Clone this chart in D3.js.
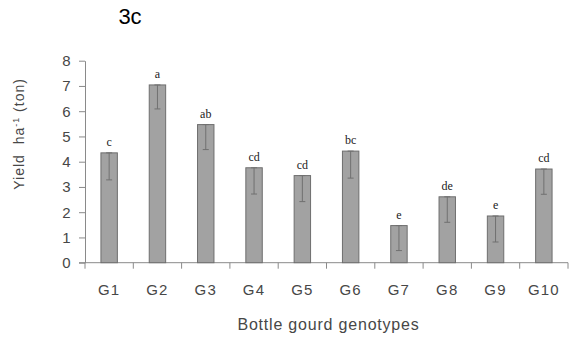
<!DOCTYPE html>
<html>
<head>
<meta charset="utf-8">
<script src="https://cdn.jsdelivr.net/npm/d3@7"></script>
<style>
  body { margin: 0; background: #fff; }
  svg { display: block; }
  text { font-family: "Liberation Sans", Arial, sans-serif; }
</style>
</head>
<body>
<div id="chart"></div>
<script>
// genotypes and yield values
const genotypes = ["G1", "G2", "G3", "G4", "G5", "G6", "G7", "G8", "G9", "G10"];
const yields = [4.35, 7.04, 5.47, 3.76, 3.45, 4.42, 1.47, 2.61, 1.85, 3.71];
const errors = [1.07, 0.95, 0.99, 1.04, 1.03, 1.07, 0.99, 1.01, 1.03, 1.0];
const letters = ["c", "a", "ab", "cd", "cd", "bc", "e", "de", "e", "cd"];
const yTicks = [0, 1, 2, 3, 4, 5, 6, 7, 8];

const props = {
  width: 573,
  height: 343,
  left: 85,
  right: 5,
  top: 60.7,
  bottom: 80.3,
  barFill: "#a2a2a2",
  barStroke: "#6e6e6e",
  axisColor: "#8a8a8a",
  textColor: "#474747",
};

const data = genotypes.map((g, i) => ({ g, y: yields[i], e: errors[i], l: letters[i] }));

const svg = d3.select("#chart").append("svg")
  .attr("width", props.width)
  .attr("height", props.height);

const width = props.width - props.left - props.right;
const height = props.height - props.top - props.bottom;

const g = svg.append("g").attr("transform", `translate(${props.left},${props.top})`);

const x = d3.scaleBand()
  .domain(genotypes)
  .range([0, width])
  .paddingInner(0.66)
  .paddingOuter(0.33);

const y = d3.scaleLinear().domain([0, 8]).range([height, 0]);

// y axis
const yAxis = g.append("g")
  .call(d3.axisLeft(y).tickValues(yTicks).tickSize(6).tickSizeOuter(0).tickPadding(8));
yAxis.select(".domain").attr("stroke", props.axisColor);
yAxis.selectAll(".tick line").attr("stroke", props.axisColor);
yAxis.selectAll(".tick text")
  .attr("fill", props.textColor)
  .style("font-size", "15px")
  .style("letter-spacing", "0.5px");

// x axis: labels centred under bars, ticks on category boundaries
const xAxis = g.append("g")
  .attr("transform", `translate(0,${height})`)
  .call(d3.axisBottom(x).tickSize(0).tickPadding(22).tickSizeOuter(0));
xAxis.select(".domain").remove();
xAxis.selectAll(".tick text")
  .attr("fill", props.textColor)
  .style("font-size", "15px")
  .style("letter-spacing", "1.2px");

g.append("line")
  .attr("x1", -6)
  .attr("x2", width)
  .attr("y1", height)
  .attr("y2", height)
  .attr("stroke", props.axisColor);

g.append("g")
  .selectAll("line")
  .data(d3.range(genotypes.length + 1))
  .join("line")
  .attr("x1", (i) => i * x.step())
  .attr("x2", (i) => i * x.step())
  .attr("y1", height)
  .attr("y2", height + 6)
  .attr("stroke", props.axisColor);

// bars
g.selectAll(".bar")
  .data(data)
  .join("rect")
  .attr("class", "bar")
  .attr("x", (d) => x(d.g))
  .attr("width", x.bandwidth())
  .attr("y", (d) => y(d.y))
  .attr("height", (d) => height - y(d.y))
  .attr("fill", props.barFill)
  .attr("stroke", props.barStroke)
  .attr("stroke-width", 1);

// minus error bars
const err = g.selectAll(".err").data(data).join("g").attr("class", "err")
  .attr("stroke", "#707070").attr("stroke-width", 1);
err.append("line")
  .attr("x1", (d) => x(d.g) + x.bandwidth() / 2)
  .attr("x2", (d) => x(d.g) + x.bandwidth() / 2)
  .attr("y1", (d) => y(d.y))
  .attr("y2", (d) => y(d.y - d.e));
err.append("line")
  .attr("x1", (d) => x(d.g) + x.bandwidth() / 2 - 3)
  .attr("x2", (d) => x(d.g) + x.bandwidth() / 2 + 3)
  .attr("y1", (d) => y(d.y - d.e))
  .attr("y2", (d) => y(d.y - d.e));
err.append("line")
  .attr("x1", (d) => x(d.g) + x.bandwidth() / 2 - 3)
  .attr("x2", (d) => x(d.g) + x.bandwidth() / 2 + 3)
  .attr("y1", (d) => y(d.y))
  .attr("y2", (d) => y(d.y));

// significance letters
g.selectAll(".letter")
  .data(data)
  .join("text")
  .attr("class", "letter")
  .attr("x", (d) => x(d.g) + x.bandwidth() / 2)
  .attr("y", (d) => y(d.y) - 7)
  .attr("text-anchor", "middle")
  .style("font-family", "'Liberation Serif', 'Times New Roman', serif")
  .style("font-size", "12px")
  .attr("fill", "#222")
  .text((d) => d.l);

// axis titles
g.append("text")
  .attr("x", width / 2 + 2)
  .attr("y", height + 67)
  .attr("text-anchor", "middle")
  .attr("fill", props.textColor)
  .style("font-size", "16px")
  .style("letter-spacing", "0.8px")
  .text("Bottle gourd genotypes");

const yTitle = g.append("text")
  .attr("transform", `translate(${-61},${y(5.1)}) rotate(-90)`)
  .attr("text-anchor", "middle")
  .attr("fill", props.textColor)
  .style("font-size", "14px")
  .style("letter-spacing", "1px");
yTitle.append("tspan").text("Yield\u00a0\u00a0ha");
yTitle.append("tspan").attr("dy", -5).style("font-size", "9px").text("-1");
yTitle.append("tspan").attr("dy", 5).text("\u00a0(ton)");

// panel title
svg.append("text")
  .attr("x", 130)
  .attr("y", 24)
  .attr("text-anchor", "middle")
  .attr("fill", "#000")
  .style("font-size", "22px")
  .text("3c");
</script>
</body>
</html>
